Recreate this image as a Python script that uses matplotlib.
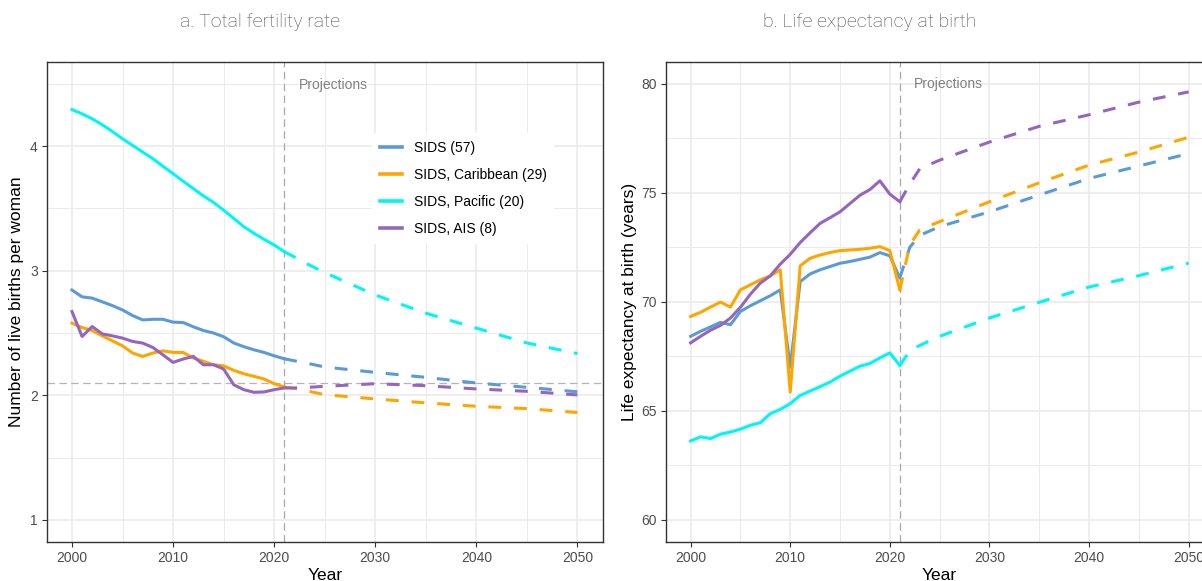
import matplotlib
matplotlib.use('Agg')
import matplotlib.pyplot as plt
from matplotlib.lines import Line2D
from matplotlib.ticker import MultipleLocator

# ---- data ----
years = list(range(2000, 2022))
proj_years = [2021, 2022, 2023, 2025, 2030, 2035, 2040, 2045, 2050]

labels = ['SIDS (57)', 'SIDS, Caribbean (29)', 'SIDS, Pacific (20)', 'SIDS, AIS (8)']
colors = ['#5B9BD5', '#FFA500', '#00F5F5', '#9467BD']

# a. total fertility rate
sids_tfr = [2.845, 2.79, 2.78, 2.75, 2.72, 2.685, 2.64, 2.605, 2.61, 2.61, 2.587,
            2.584, 2.55, 2.52, 2.50, 2.47, 2.42, 2.39, 2.365, 2.344, 2.317, 2.293]
carib_tfr = [2.579, 2.544, 2.52, 2.477, 2.437, 2.397, 2.339, 2.312, 2.339, 2.357, 2.344,
             2.344, 2.299, 2.272, 2.245, 2.237, 2.2, 2.173, 2.152, 2.131, 2.093, 2.067]
pac_tfr = [4.293, 4.259, 4.219, 4.171, 4.117, 4.059, 4.005, 3.952, 3.899, 3.838, 3.779,
           3.718, 3.659, 3.60, 3.548, 3.486, 3.42, 3.353, 3.30, 3.252, 3.206, 3.153]
ais_tfr = [2.672, 2.472, 2.552, 2.493, 2.477, 2.459, 2.432, 2.419, 2.384, 2.325, 2.264,
           2.291, 2.312, 2.245, 2.245, 2.211, 2.085, 2.045, 2.024, 2.027, 2.045, 2.059]

sids_tfr_proj = [2.293, 2.277, 2.262, 2.227, 2.184, 2.144, 2.099, 2.064, 2.028]
carib_tfr_proj = [2.067, 2.055, 2.04, 2.005, 1.971, 1.939, 1.912, 1.893, 1.862]
pac_tfr_proj = [3.153, 3.11, 3.065, 2.985, 2.805, 2.659, 2.539, 2.42, 2.335]
ais_tfr_proj = [2.059, 2.059, 2.062, 2.072, 2.093, 2.077, 2.051, 2.032, 2.003]

# b. life expectancy at birth
sids_le = [68.42, 68.65, 68.85, 69.06, 68.95, 69.56, 69.82, 70.05, 70.28, 70.55, 67.0,
           70.93, 71.28, 71.47, 71.62, 71.77, 71.85, 71.95, 72.05, 72.26, 72.11, 71.1]
carib_le = [69.33, 69.52, 69.76, 69.99, 69.76, 70.55, 70.78, 71.01, 71.19, 71.47, 65.86,
            71.65, 72.0, 72.15, 72.26, 72.35, 72.38, 72.41, 72.46, 72.53, 72.35, 70.55]
pac_le = [63.62, 63.81, 63.73, 63.93, 64.03, 64.16, 64.34, 64.46, 64.87, 65.07, 65.33,
          65.71, 65.91, 66.11, 66.32, 66.59, 66.82, 67.05, 67.17, 67.43, 67.66, 67.08]
ais_le = [68.12, 68.42, 68.70, 68.92, 69.26, 69.75, 70.35, 70.86, 71.19, 71.73, 72.18,
          72.72, 73.17, 73.60, 73.86, 74.13, 74.51, 74.89, 75.15, 75.55, 74.94, 74.59]

sids_le_proj = [71.1, 72.5, 73.05, 73.45, 74.13, 74.9, 75.66, 76.23, 76.80]
carib_le_proj = [70.55, 72.6, 73.3, 73.68, 74.59, 75.46, 76.27, 76.87, 77.55]
pac_le_proj = [67.08, 67.75, 68.0, 68.42, 69.26, 69.98, 70.68, 71.2, 71.78]
ais_le_proj = [74.59, 75.4, 76.1, 76.5, 77.33, 78.05, 78.58, 79.16, 79.63]

tfr_hist = [sids_tfr, carib_tfr, pac_tfr, ais_tfr]
tfr_proj = [sids_tfr_proj, carib_tfr_proj, pac_tfr_proj, ais_tfr_proj]
le_hist = [sids_le, carib_le, pac_le, ais_le]
le_proj = [sids_le_proj, carib_le_proj, pac_le_proj, ais_le_proj]

plt.rcParams['font.family'] = ['Liberation Sans', 'DejaVu Sans']

fig = plt.figure(figsize=(12.02, 5.81), dpi=100)
ax1 = fig.add_axes([0.03885, 0.06764, 0.46256, 0.82565])
ax2 = fig.add_axes([0.55383, 0.06764, 0.45582, 0.82565])


def style_axis(ax, ymajor, yminor):
    ax.xaxis.set_major_locator(MultipleLocator(10))
    ax.xaxis.set_minor_locator(MultipleLocator(5))
    ax.yaxis.set_major_locator(MultipleLocator(ymajor))
    ax.yaxis.set_minor_locator(MultipleLocator(yminor))
    ax.grid(which='major', color='#EBEBEB', lw=1.2, zorder=0)
    ax.grid(which='minor', color='#EBEBEB', lw=0.7, zorder=0)
    ax.set_axisbelow(True)
    for s in ax.spines.values():
        s.set_color('#333333')
        s.set_linewidth(1.0)
    ax.tick_params(which='major', direction='out', length=3.5, width=0.8,
                   color='#333333', labelcolor='#4D4D4D', labelsize=10, pad=3)
    ax.tick_params(which='minor', length=0)


def draw(ax, hist, proj):
    for h, p, c in zip(hist, proj, colors):
        ax.plot(years, h, color=c, lw=2.2, solid_joinstyle='round', zorder=3)
        ax.plot(proj_years, p, color=c, lw=2.2, dashes=(4.2, 4.2), zorder=3)
    ax.axvline(2021, color='#A8A8A8', lw=0.9, dashes=(6, 3.5), zorder=2)


# panel a
draw(ax1, tfr_hist, tfr_proj)
ax1.axhline(2.1, color='#B4B4B4', lw=0.9, dashes=(6, 3.5), zorder=2)
ax1.set_xlim(1997.5, 2052.5)
ax1.set_ylim(0.825, 4.675)
style_axis(ax1, 1, 0.5)
ax1.text(2022.4, 4.49, 'Projections', color='#808080', fontsize=10, va='center')
ax1.set_xlabel('Year', fontsize=12.5, color='black')
ax1.set_ylabel('Number of live births per woman', fontsize=12.5, color='black')
ax1.xaxis.set_label_coords(0.5, -0.055)
ax1.yaxis.set_label_coords(-0.0415, 0.5)

handles = [Line2D([0], [0], color=c, lw=2.6) for c in colors]
leg = ax1.legend(handles, labels, loc='upper left', bbox_to_anchor=(0.585, 0.852),
                 frameon=True, fancybox=False, edgecolor='white', facecolor='white',
                 framealpha=1, fontsize=10, handlelength=1.6, handletextpad=0.85,
                 labelspacing=0.95, borderpad=0.55, borderaxespad=0)
leg.get_frame().set_linewidth(0)

# panel b
draw(ax2, le_hist, le_proj)
ax2.set_xlim(1997.5, 2052.5)
ax2.set_ylim(59, 81)
style_axis(ax2, 5, 2.5)
ax2.text(2022.4, 79.97, 'Projections', color='#808080', fontsize=10, va='center')
ax2.set_xlabel('Year', fontsize=12.5, color='black')
ax2.set_ylabel('Life expectancy at birth (years)', fontsize=12.5, color='black')
ax2.xaxis.set_label_coords(0.5, -0.055)
ax2.yaxis.set_label_coords(-0.0518, 0.5)

fig.text(260 / 1202, 1 - 22 / 581, 'a. Total fertility rate', ha='center', va='center',
         fontsize=14, color='#4D4D4D', family=['Roboto', 'DejaVu Sans'], fontweight='light')
fig.text(870 / 1202, 1 - 22 / 581, 'b. Life expectancy at birth', ha='center', va='center',
         fontsize=14, color='#4D4D4D', family=['Roboto', 'DejaVu Sans'], fontweight='light')

fig.savefig('out.png', dpi=100)
